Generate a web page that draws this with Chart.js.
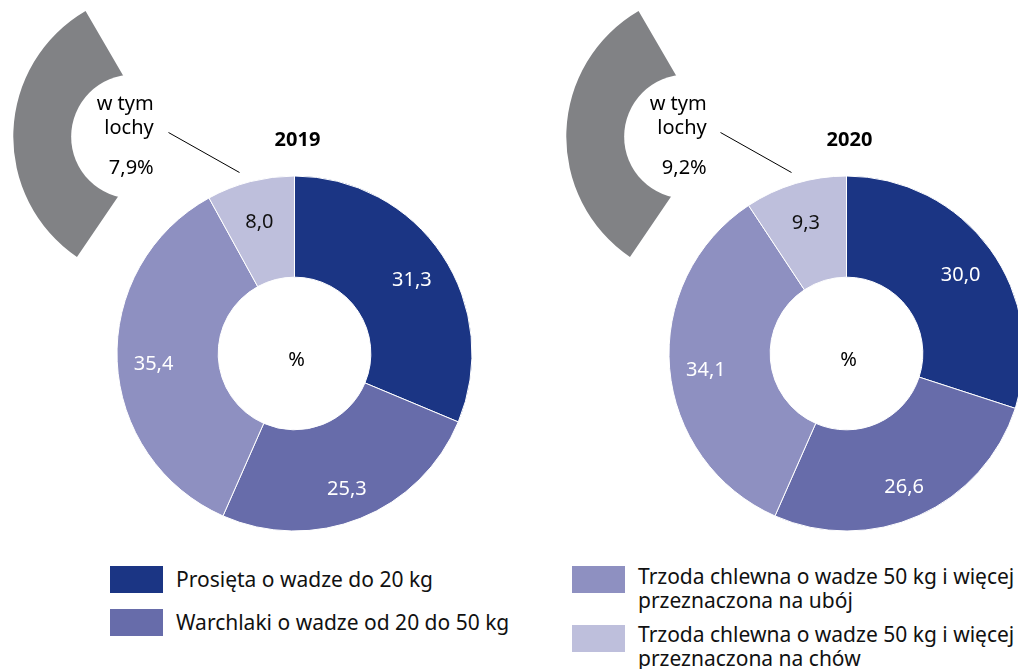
<!DOCTYPE html>
<html>
<head>
<meta charset="utf-8">
<script src="https://cdn.jsdelivr.net/npm/chart.js@4.4.1/dist/chart.umd.min.js"></script>
<style>
  html, body { margin: 0; padding: 0; background: #fff; overflow: hidden; width: 1018px; height: 669px; }
  body { position: relative; font-family: "Noto Sans", sans-serif; }
  canvas { position: absolute; }
  .leg-item { position: absolute; display: flex; align-items: flex-start; }
  .leg-box { width: 53px; height: 27px; flex: none; }
  .leg-text { margin-left: 13px; font-size: 21px; line-height: 24px; color: #111; width: 390px; }
</style>
</head>
<body>
<canvas id="paczek2019" width="552" height="545" style="left:0;top:0"></canvas>
<canvas id="paczek2020" width="552" height="545" style="left:552px;top:0"></canvas>
<canvas id="lochy2019" width="146" height="246" style="left:13px;top:11px"></canvas>
<canvas id="lochy2020" width="146" height="246" style="left:566px;top:11px"></canvas>
<div id="legenda"></div>

<script>
var lata = ["2019", "2020"];
var kategorie = [
  "Prosięta o wadze do 20 kg",
  "Warchlaki o wadze od 20 do 50 kg",
  "Trzoda chlewna o wadze 50 kg i więcej przeznaczona na ubój",
  "Trzoda chlewna o wadze 50 kg i więcej przeznaczona na chów"
];
var wartosci2019 = [31.3, 25.3, 35.4, 8.0];
var wartosci2020 = [30.0, 26.6, 34.1, 9.3];
var lochy = [7.9, 9.2]; // w tym lochy, %

var kolory = ["#1b3584", "#676caa", "#8e90c1", "#bebfdc"];
var kolorLochy = "#818285";
var kolorEtykiet = ["#ffffff", "#ffffff", "#ffffff", "#111111"];
var czcionka = "'Noto Sans', sans-serif";

Chart.defaults.font.family = czcionka;

function formatuj(v) {
  return v.toFixed(1).replace(".", ",");
}

// etykiety na wycinkach, "%" w srodku, rok i linia do lochow
var etykietyPlugin = {
  id: "etykiety",
  afterDatasetsDraw: function(chart, args, opcje) {
    var ctx = chart.ctx;
    var meta = chart.getDatasetMeta(0);
    var dane = chart.data.datasets[0].data;
    ctx.save();
    ctx.font = "20px " + czcionka;
    ctx.textAlign = "center";
    ctx.textBaseline = "middle";
    meta.data.forEach(function(luk, i) {
      var kat = (luk.startAngle + luk.endAngle) / 2;
      var r = luk.innerRadius + 0.64 * (luk.outerRadius - luk.innerRadius);
      ctx.fillStyle = kolorEtykiet[i];
      ctx.fillText(formatuj(dane[i]), luk.x + Math.cos(kat) * r, luk.y + Math.sin(kat) * r + 5);
    });
    var s = meta.data[0];
    ctx.fillStyle = "#000";
    ctx.fillText("%", s.x + 2, s.y + 7);
    ctx.font = "bold 20px " + czcionka;
    ctx.fillText(opcje.rok, s.x + 3, s.y - 213);
    ctx.strokeStyle = "#000";
    ctx.lineWidth = 1;
    ctx.beginPath();
    ctx.moveTo(s.x - 126, s.y - 221);
    ctx.lineTo(s.x - 55, s.y - 181);
    ctx.stroke();
    ctx.restore();
  }
};

// bialy krag z opisem na szarym wycinku
var lochyPlugin = {
  id: "lochyOpis",
  afterDatasetsDraw: function(chart) {
    var ctx = chart.ctx;
    var luk = chart.getDatasetMeta(0).data[0];
    var R = luk.outerRadius;
    var v = chart.data.datasets[0].data[0];
    ctx.save();
    ctx.fillStyle = "#fff";
    ctx.beginPath();
    ctx.arc(luk.x - 0.175 * R, luk.y, 0.427 * R, 0, 2 * Math.PI);
    ctx.fill();
    ctx.fillStyle = "#000";
    ctx.font = "20px " + czcionka;
    ctx.textAlign = "right";
    ctx.textBaseline = "middle";
    ctx.fillText("w tym", luk.x - 5, luk.y - 32);
    ctx.fillText("lochy", luk.x - 5, luk.y - 8);
    ctx.fillText(formatuj(v) + "%", luk.x - 5, luk.y + 32);
    ctx.restore();
  }
};

function rysujPaczek(id, rok, wartosci) {
  return new Chart(document.getElementById(id), {
    type: "doughnut",
    data: {
      labels: kategorie,
      datasets: [{
        data: wartosci,
        backgroundColor: kolory,
        borderColor: "#ffffff",
        borderWidth: 1,
        hoverOffset: 0
      }]
    },
    options: {
      responsive: false,
      animation: false,
      events: [],
      cutout: "43%",
      layout: { padding: { left: 116.5, top: 175.5, right: 79.5, bottom: 13.5 } },
      plugins: {
        legend: { display: false },
        tooltip: { enabled: false },
        etykiety: { rok: rok }
      }
    },
    plugins: [etykietyPlugin]
  });
}

function rysujLochy(id, wartosc) {
  return new Chart(document.getElementById(id), {
    type: "pie",
    data: {
      labels: ["w tym lochy"],
      datasets: [{
        data: [wartosc],
        backgroundColor: kolorLochy,
        borderWidth: 0,
        hoverBorderWidth: 0,
        hoverOffset: 0
      }]
    },
    options: {
      responsive: false,
      animation: false,
      events: [],
      rotation: 214.2,
      circumference: 115.6,
      layout: { padding: 0 },
      plugins: { legend: { display: false }, tooltip: { enabled: false } }
    },
    plugins: [lochyPlugin]
  });
}

rysujPaczek("paczek2019", lata[0], wartosci2019);
rysujPaczek("paczek2020", lata[1], wartosci2020);
rysujLochy("lochy2019", lochy[0]);
rysujLochy("lochy2020", lochy[1]);

// legenda w dwoch kolumnach: [x, y, przesuniecie tekstu]
var legPozycje = [[110, 566, 1], [110, 609, 1], [572, 566, -2], [572, 625, -3]];
var legenda = document.getElementById("legenda");
kategorie.forEach(function(nazwa, i) {
  var el = document.createElement("div");
  el.className = "leg-item";
  el.style.left = legPozycje[i][0] + "px";
  el.style.top = legPozycje[i][1] + "px";
  var box = document.createElement("div");
  box.className = "leg-box";
  box.style.background = kolory[i];
  var txt = document.createElement("div");
  txt.className = "leg-text";
  txt.style.marginTop = legPozycje[i][2] + "px";
  txt.textContent = nazwa;
  el.appendChild(box);
  el.appendChild(txt);
  legenda.appendChild(el);
});
</script>
</body>
</html>
